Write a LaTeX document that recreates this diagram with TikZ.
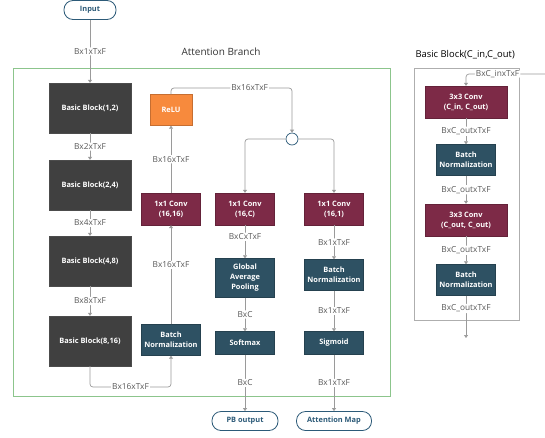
\documentclass[tikz,border=0pt]{standalone}
\usepackage{fontspec}
\setmainfont{Open Sans}
\usetikzlibrary{arrows.meta}

\definecolor{blockgray}{HTML}{404040}
\definecolor{convred}{HTML}{7D2A47}
\definecolor{normblue}{HTML}{2E5163}
\definecolor{reluorange}{HTML}{F78A3D}
\definecolor{pillblue}{HTML}{2C5A78}
\definecolor{framegreen}{HTML}{8CC58C}
\definecolor{linegray}{HTML}{9A9A9A}

\begin{document}
\begin{tikzpicture}[x=1pt, y=-1pt,
    box/.style={text=white, inner sep=0pt, align=center, font=\fontsize{7.4}{10}\selectfont\bfseries},
    bblock/.style={box, fill=blockgray, draw=black!70, minimum width=82pt, minimum height=50pt},
    conv/.style={box, fill=convred, draw=convred!80!black, minimum width=59pt, minimum height=32pt},
    wideconv/.style={conv, minimum width=82pt},
    norm/.style={box, fill=normblue, draw=normblue!80!black, minimum width=59pt, minimum height=31pt},
    relu/.style={box, fill=reluorange, draw=reluorange!80!black, minimum width=42pt, minimum height=31pt},
    pill/.style={draw=pillblue, line width=0.8pt, fill=white, rounded corners=9pt, text=pillblue, minimum height=19pt, inner sep=0pt, font=\fontsize{7.4}{9}\selectfont\bfseries},
    lbl/.style={fill=white, inner sep=1pt, text=black!65, font=\fontsize{8.3}{9}\selectfont},
    arr/.style={draw=linegray, line width=0.7pt, rounded corners=3pt, -{Triangle[width=4pt,length=3pt]}},
    title/.style={text=black!80, font=\fontsize{10}{12}\selectfont}]

    \useasboundingbox (0,0) rectangle (545,437);

    \draw[framegreen, line width=1pt] (13,68) rectangle (390,396);
    \draw[linegray!80, line width=0.8pt] (414,68) rectangle (519,320);
    \node[title] (attn) at (221,52) {Attention Branch};
    \node[title, anchor=west, font=\fontsize{9.4}{11}\selectfont, text=black] (bbtitle) at (412,55) {Basic Block(C\_in,C\_out)};

    \node[pill, minimum width=52pt] (input) at (90,10) {Input};
    \node[bblock] (bb1) at (90,108) {Basic Block(1,2)};
    \node[bblock] (bb2) at (90,185) {Basic Block(2,4)};
    \node[bblock] (bb3) at (90,261) {Basic Block(4,8)};
    \node[bblock] (bb4) at (90,341) {Basic Block(8,16)};

    \node[norm] (bnA) at (171,340) {Batch\\Normalization};
    \node[conv] (convA) at (171,209) {1x1 Conv\\(16,16)};
    \node[relu] (relu) at (171,110) {ReLU};
    \node[circle, draw=pillblue, fill=white, line width=0.7pt, minimum size=12pt, inner sep=0pt] (mix) at (292,139) {};

    \node[conv] (convC) at (245,209) {1x1 Conv\\(16,C)};
    \node[norm, minimum height=39pt] (gap) at (245,278) {Global\\Average\\Pooling};
    \node[norm, minimum height=23pt] (soft) at (245,343) {Softmax};
    \node[pill, minimum width=66pt] (pbout) at (245,421) {PB output};

    \node[conv] (convS) at (334,209) {1x1 Conv\\(16,1)};
    \node[norm] (bnS) at (334,275) {Batch\\Normalization};
    \node[norm, minimum height=23pt] (sig) at (334,343) {Sigmoid};
    \node[pill, minimum width=75pt] (amap) at (334,421) {Attention Map};

    \node[wideconv] (rconv1) at (466,102) {3x3 Conv\\(C\_in, C\_out)};
    \node[norm] (rbn1) at (466,160) {Batch\\Normalization};
    \node[wideconv] (rconv2) at (466,220) {3x3 Conv\\(C\_out, C\_out)};
    \node[norm] (rbn2) at (466,280) {Batch\\Normalization};

    \coordinate (low) at (171,387);
    \coordinate (top) at (292,88);
    \coordinate (rin) at (545,74);
    \coordinate (rout) at (466,338);

    \draw[arr] (input) -- node[lbl]{Bx1xTxF} (bb1);
    \draw[arr] (bb1) -- node[lbl]{Bx2xTxF} (bb2);
    \draw[arr] (bb2) -- node[lbl]{Bx4xTxF} (bb3);
    \draw[arr] (bb3) -- node[lbl]{Bx8xTxF} (bb4);
    \draw[arr] (bb4.south) -- (bb4.south|-low) -- node[lbl]{Bx16xTxF} (low) -- (bnA.south);
    \draw[arr] (bnA) -- node[lbl, pos=0.6]{Bx16xTxF} (convA);
    \draw[arr] (convA) -- node[lbl]{Bx16xTxF} (relu);
    \draw[arr] (relu.north) -- (relu.north|-top) -- node[lbl, pos=0.65]{Bx16xTxF} (top) -- (mix.north);
    \draw[arr] (mix.west) -| (convC.north);
    \draw[arr] (mix.east) -| (convS.north);

    \draw[arr] (convC) -- node[lbl, pos=0.35]{BxCxTxF} (gap);
    \draw[arr] (gap) -- node[lbl]{BxC} (soft);
    \draw[arr] (soft) -- node[lbl]{BxC} (pbout);
    \draw[arr] (convS) -- node[lbl, pos=0.5]{Bx1xTxF} (bnS);
    \draw[arr] (bnS) -- node[lbl]{Bx1xTxF} (sig);
    \draw[arr] (sig) -- node[lbl]{Bx1xTxF} (amap);

    \draw[arr] (rin) -- node[lbl, pos=0.6]{BxC\_inxTxF} (rin-|rconv1) -- (rconv1.north);
    \draw[arr] (rconv1) -- node[lbl]{BxC\_outxTxF} (rbn1);
    \draw[arr] (rbn1) -- node[lbl]{BxC\_outxTxF} (rconv2);
    \draw[arr] (rconv2) -- node[lbl]{BxC\_outxTxF} (rbn2);
    \draw[arr] (rbn2) -- node[lbl, pos=0.3]{BxC\_outxTxF} (rout);
\end{tikzpicture}
\end{document}
